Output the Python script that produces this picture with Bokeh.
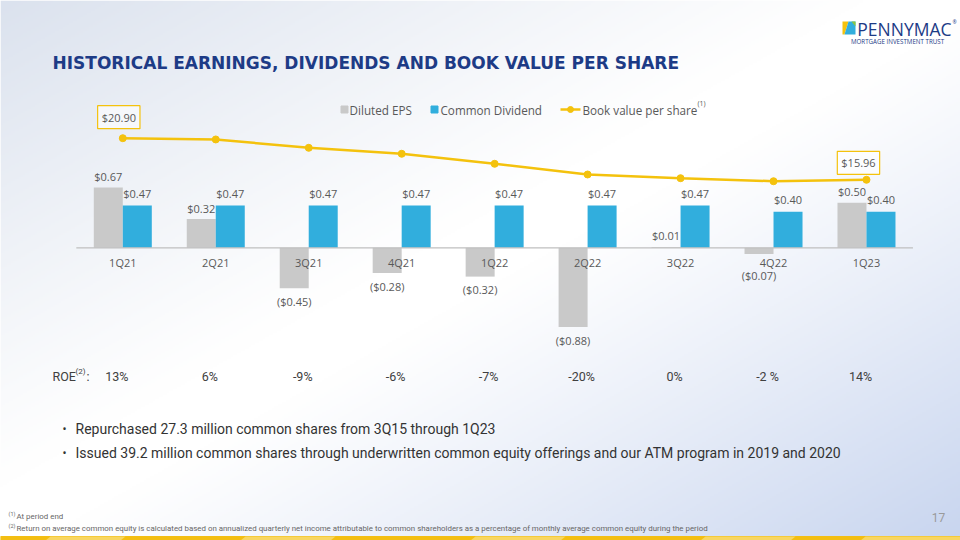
import numpy as np
from bokeh.plotting import figure
from bokeh.models import Range1d, Label
from bokeh.core.properties import value
from bokeh.embed import file_html
from bokeh.resources import INLINE

# ---- data -------------------------------------------------------------
quarters = ["1Q21", "2Q21", "3Q21", "4Q21", "1Q22", "2Q22", "3Q22", "4Q22", "1Q23"]
diluted_eps = [0.67, 0.32, -0.45, -0.28, -0.32, -0.88, 0.01, -0.07, 0.50]
common_dividend = [0.47, 0.47, 0.47, 0.47, 0.47, 0.47, 0.47, 0.40, 0.40]
book_value = [20.90, 20.75, 19.76, 19.05, 17.86, 16.59, 16.15, 15.79, 15.96]
roe = ["13%", "6%", "-9%", "-6%", "-7%", "-20%", "0%", "-2 %", "14%"]

title = "HISTORICAL EARNINGS, DIVIDENDS AND BOOK VALUE PER SHARE"
bullets = [
    "Repurchased 27.3 million common shares from 3Q15 through 1Q23",
    "Issued 39.2 million common shares through underwritten common equity offerings and our ATM program in 2019 and 2020",
]
footnotes = [
    ("(1)", "At period end"),
    ("(2)", "Return on average common equity is calculated based on annualized quarterly net income attributable to common shareholders as a percentage of monthly average common equity during the period"),
]

# ---- styling ----------------------------------------------------------
W, H = 960, 540
GRAY = "#c9c9c9"
BLUE = "#31aedd"
YELLOW = "#f4c20d"
NAVY = "#1d3b86"
LABEL = "#595959"
FONT = "Open Sans"
BODY = "Roboto"

# geometry of the chart area (pixels from the top-left corner)
X_FIRST, X_STEP = 122.3, 92.96        # centre of the first quarter, spacing
BASE_Y, PX_PER_DOLLAR = 247.3, 90.0   # zero line and bar scale
BV_REF_Y, BV_PX = 137.7, 8.42         # book value scale (px per $)

PX = 1.0 / PX_PER_DOLLAR
BAR_W = 29.0 / X_STEP

x_range = Range1d(-X_FIRST / X_STEP, (W - X_FIRST) / X_STEP)
y_range = Range1d((BASE_Y - H) / PX_PER_DOLLAR, BASE_Y / PX_PER_DOLLAR)
bv_top = book_value[0] + BV_REF_Y / BV_PX
bv_bottom = book_value[0] - (H - BV_REF_Y) / BV_PX

p = figure(width=W, height=H, x_range=x_range, y_range=y_range,
           output_backend="svg", toolbar_location=None,
           x_axis_location=None, y_axis_location=None,
           min_border=0, min_border_left=0, min_border_right=0,
           min_border_top=0, min_border_bottom=0)
p.grid.visible = False
p.outline_line_color = None
p.background_fill_color = "white"
p.border_fill_color = "white"
p.extra_x_ranges = {"px": Range1d(0, W)}
p.extra_y_ranges = {"py": Range1d(H, 0), "pu": Range1d(0, H),
                    "bv": Range1d(bv_bottom, bv_top)}

# ---- page background: soft diagonal gradient -------------------------
gw, gh = 480, 270
gx = (np.arange(gw) + 0.5) / gw
gy_top = 1.0 - (np.arange(gh) + 0.5) / gh
t = 0.5 * gx[None, :] + 0.5 * gy_top[:, None]
a = np.clip((0.45 - t) / 0.45, 0, 1) ** 1.1
b = np.clip((t - 0.52) / 0.48, 0, 1) ** 1.1
tl = np.array([219, 226, 238], dtype=float)
br = np.array([200, 213, 239], dtype=float)
white = np.array([255, 255, 255], dtype=float)
rgb = (white[None, None, :] * (1 - a - b)[..., None]
       + tl[None, None, :] * a[..., None] + br[None, None, :] * b[..., None])
img = np.empty((gh, gw), dtype=np.uint32)
view = img.view(dtype=np.uint8).reshape((gh, gw, 4))
view[..., :3] = rgb.astype(np.uint8)
view[..., 3] = 255
p.image_rgba(image=[img], x=0, y=0, dw=W, dh=H, x_range_name="px", y_range_name="pu")

# yellow ribbon along the bottom edge
p.quad(left=0, right=W, bottom=0, top=4, color="#f3be12", x_range_name="px", y_range_name="pu")
light_segments = [(45, 120), (240, 330), (470, 560), (700, 790), (860, 960)]
p.patches(xs=[[l, r, r + 5, l + 5] for l, r in light_segments],
          ys=[[0, 0, 4, 4] for _ in light_segments],
          color="#f8d661", line_color=None, x_range_name="px", y_range_name="pu")

# ---- title and logo ---------------------------------------------------
p.text(x=[52], y=[62], text=[title], text_font=value("DejaVu Sans"), text_font_style="bold",
       text_font_size="17px", text_color=NAVY, text_baseline="middle",
       x_range_name="px", y_range_name="py")

p.patches(xs=[[842, 848, 844, 842], [848, 855, 855, 844], [851, 855, 855]],
          ys=[[21, 21, 34, 34], [21, 21, 34, 34], [21, 21, 26]],
          color=["#f4c20d", "#31aedd", "#8cc63f"], line_color=None,
          x_range_name="px", y_range_name="py")
p.text(x=[951], y=[28], text=["PENNYMAC"], text_font=value(FONT), text_font_size="17.5px",
       text_color=NAVY, text_align="right", text_baseline="middle",
       x_range_name="px", y_range_name="py")
p.text(x=[952], y=[21], text=["®"], text_font=value(FONT), text_font_size="5px",
       text_color=NAVY, text_baseline="middle", x_range_name="px", y_range_name="py")
p.text(x=[897], y=[41], text=["MORTGAGE INVESTMENT TRUST"], text_font=value(FONT),
       text_font_size="6.2px", text_color=NAVY, text_align="center", text_baseline="middle",
       x_range_name="px", y_range_name="py")

# ---- legend -----------------------------------------------------------
LEG_Y = 109
p.scatter(x=[344, 434], y=[LEG_Y, LEG_Y], marker="square", size=7,
          color=[GRAY, BLUE], x_range_name="px", y_range_name="py")
p.segment(x0=[560], y0=[LEG_Y], x1=[580], y1=[LEG_Y], line_color=YELLOW, line_width=2.5,
          x_range_name="px", y_range_name="py")
p.scatter(x=[570], y=[LEG_Y], size=6, color=YELLOW, x_range_name="px", y_range_name="py")
p.text(x=[349, 440, 582], y=[LEG_Y] * 3,
       text=["Diluted EPS", "Common Dividend", "Book value per share"],
       text_font=value(FONT), text_font_size="11.7px", text_color=LABEL,
       text_baseline="middle", x_range_name="px", y_range_name="py")
p.text(x=[697], y=[103], text=["(1)"], text_font=value(FONT), text_font_size="7px",
       text_color=LABEL, text_baseline="middle", x_range_name="px", y_range_name="py")

# ---- bars -------------------------------------------------------------
idx = np.arange(len(quarters), dtype=float)
p.vbar(x=idx - BAR_W / 2, top=diluted_eps, bottom=0, width=BAR_W, color=GRAY, line_color=None)
p.vbar(x=idx + BAR_W / 2, top=common_dividend, bottom=0, width=BAR_W, color=BLUE, line_color=None)
p.segment(x0=[-0.5], y0=[0], x1=[len(quarters) - 0.5], y1=[0], line_color="#bfbfbf", line_width=1.2)


def money(v):
    return f"${v:.2f}" if v >= 0 else f"(${abs(v):.2f})"


eps_label_y = [v + 11 * PX if v >= 0 else min(v - 13 * PX, -28 * PX) for v in diluted_eps]
p.text(x=idx - BAR_W / 2, y=eps_label_y, text=[money(v) for v in diluted_eps],
       text_font=value(FONT), text_font_size="11px", text_color=LABEL,
       text_align="center", text_baseline="middle")
div_label_y = [v + 12 * PX for v in common_dividend]
p.text(x=idx + BAR_W / 2, y=div_label_y, text=[money(v) for v in common_dividend],
       text_font=value(FONT), text_font_size="11px", text_color=LABEL,
       text_align="center", text_baseline="middle")

# category labels under the zero line
p.text(x=idx, y=[-15 * PX] * len(quarters), text=quarters, text_font=value(FONT),
       text_font_size="11px", text_color=LABEL, text_align="center", text_baseline="middle")

# ---- book value line --------------------------------------------------
p.line(x=idx, y=book_value, line_color=YELLOW, line_width=2.5, y_range_name="bv")
p.scatter(x=idx, y=book_value, size=7, color=YELLOW, y_range_name="bv")
for i, dx, dy in [(0, -4, 21), (len(book_value) - 1, -8, 17)]:
    p.add_layout(Label(x=idx[i], y=book_value[i], y_range_name="bv", x_offset=dx, y_offset=dy,
                       text=money(book_value[i]), text_font=FONT, text_font_size="11px",
                       text_color=LABEL, text_align="center", text_baseline="middle",
                       border_line_color=YELLOW, border_line_width=1.2,
                       background_fill_color="white", background_fill_alpha=0.6, padding=4))

# ---- ROE row ----------------------------------------------------------
ROE_Y = 376
p.text(x=[52], y=[ROE_Y], text=["ROE"], text_font=value(BODY), text_font_size="12.5px",
       text_color="#404040", text_baseline="middle", x_range_name="px", y_range_name="py")
p.text(x=[75], y=[ROE_Y - 5], text=["(2)"], text_font=value(BODY), text_font_size="8px",
       text_color="#404040", text_baseline="middle", x_range_name="px", y_range_name="py")
p.text(x=[86], y=[ROE_Y], text=[":"], text_font=value(BODY), text_font_size="12.5px",
       text_color="#404040", text_baseline="middle", x_range_name="px", y_range_name="py")
p.text(x=idx, y=[ROE_Y] * len(roe), text=roe, x_offset=-6, text_font=value(BODY),
       text_font_size="12.5px", text_color="#404040", text_align="center",
       text_baseline="middle", y_range_name="py")

# ---- bullet points ----------------------------------------------------
for k, line in enumerate(bullets):
    yy = 428 + 24 * k
    p.text(x=[62], y=[yy], text=["•"], text_font=value(BODY), text_font_size="12px",
           text_color="#333333", text_baseline="middle", x_range_name="px", y_range_name="py")
    p.text(x=[75], y=[yy], text=[line], text_font=value(BODY), text_font_size="14px",
           text_color="#333333", text_baseline="middle", x_range_name="px", y_range_name="py")

# ---- footnotes and page number ----------------------------------------
for k, (mark, note) in enumerate(footnotes):
    yy = 516 + 12 * k
    p.text(x=[8], y=[yy - 3], text=[mark], text_font=value(BODY), text_font_size="5.5px",
           text_color="#666666", text_baseline="middle", x_range_name="px", y_range_name="py")
    p.text(x=[16], y=[yy], text=[note], text_font=value(BODY), text_font_size="7.9px",
           text_color="#666666", text_baseline="middle", x_range_name="px", y_range_name="py")
p.text(x=[938], y=[517], text=["17"], text_font=value(BODY), text_font_size="12px",
       text_color="#9a9a9a", text_align="center", text_baseline="middle",
       x_range_name="px", y_range_name="py")

open("out.html", "w").write(file_html(p, INLINE))
